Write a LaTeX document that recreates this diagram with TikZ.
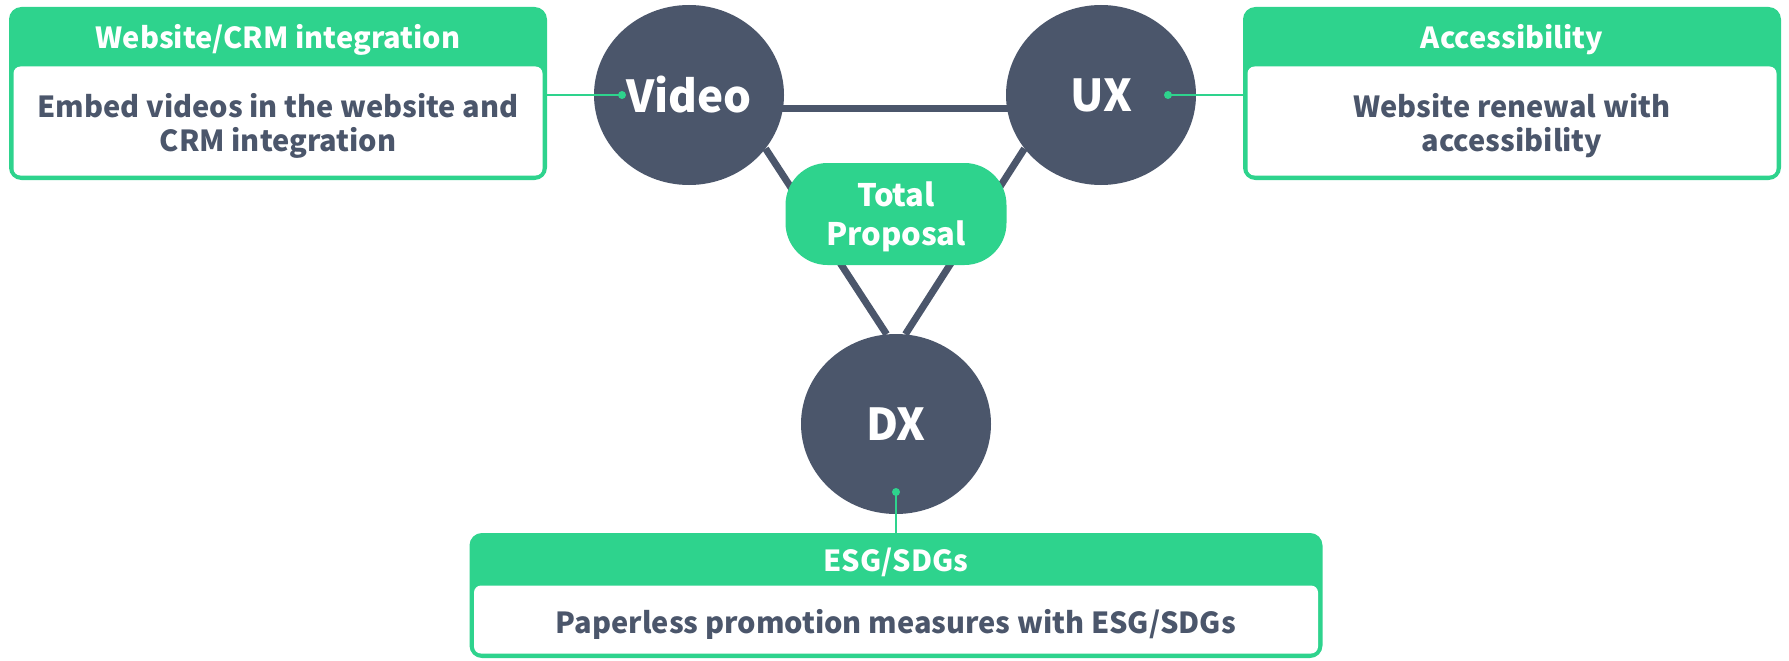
\documentclass[tikz,border=0pt]{standalone}
\usepackage{fontspec}
\setmainfont{Noto Sans CJK JP}
\usetikzlibrary{positioning, fit, backgrounds, calc, shapes.geometric}
\definecolor{mint}{HTML}{2ED38D}
\definecolor{slate}{HTML}{4B566B}

\begin{document}
\begin{tikzpicture}[
    x=1pt, y=-1pt,
    node distance=0pt,
    lift/.style={execute at begin node={\rule{0pt}{#1}}},
    hub/.style={ellipse, fill=slate, text=white, inner sep=0pt, minimum width=190pt, minimum height=180pt, font=\fontsize{44}{48}\selectfont\bfseries},
    core/.style={rectangle, rounded corners=42pt, fill=mint, text=white, align=center, inner sep=0pt, minimum width=221pt, minimum height=102pt, font=\fontsize{31}{39}\selectfont\bfseries, lift=70pt},
    head/.style={rectangle, inner sep=0pt, outer sep=0pt, text=white, text height=28pt, text depth=2pt, font=\fontsize{29}{32}\selectfont\bfseries},
    body/.style={rectangle, fill=white, rounded corners=7pt, inner sep=0pt, outer sep=3pt, align=center, text=slate, font=\fontsize{29}{34}\selectfont\bfseries},
    frame/.style={draw=mint, fill=mint, line width=3pt, rounded corners=11pt, inner sep=0pt},
    link/.style={draw=slate, line width=7pt},
    wire/.style={draw=mint, line width=2pt},
    dot/.style={circle, fill=mint, inner sep=0pt, minimum size=8pt}
]
  \useasboundingbox (0,0) rectangle (1789,661);

  % the three themes and the centre
  \node[hub] (video) at (689,95) {Video};
  \node[hub] (ux) at (1101,95) {UX};
  \node[hub] (dx) at (896,424) {DX};
  \node[core] (total) at (896,214) {Total\\Proposal};

  % cards
  \node[head, minimum width=535pt, minimum height=55pt] (webhead) at (278,36) {Website/CRM integration};
  \node[body, lift=68pt, below=of webhead, minimum width=529pt, minimum height=109pt] (webbody) {Embed videos in the website and\\CRM integration};

  \node[head, minimum width=535pt, minimum height=55pt] (acchead) at (1512,36) {Accessibility};
  \node[body, lift=68pt, below=of acchead, minimum width=529pt, minimum height=109pt] (accbody) {Website renewal with\\accessibility};

  \node[head, minimum width=850pt, minimum height=48pt] (esghead) at (896,558.5) {ESG/SDGs};
  \node[body, lift=34pt, below=of esghead, minimum width=844pt, minimum height=68pt] (esgbody) {Paperless promotion measures with ESG/SDGs};

  \begin{scope}[on background layer]
    \node[frame, fit=(webhead)(webbody)] (webframe) {};
    \node[frame, fit=(acchead)(accbody)] (accframe) {};
    \node[frame, fit=(esghead)(esgbody)] (esgframe) {};
    \draw[link] ([yshift=-13pt]video.center) -- ([yshift=-13pt]ux.center);
    \draw[link] (video.-35) -- (dx.96);
    \draw[link] (ux.-145) -- (dx.84);
  \end{scope}

  % green leads
  \node[dot] (videodot) at ([xshift=-67pt]video.center) {};
  \node[dot] (uxdot) at ([xshift=67pt]ux.center) {};
  \node[dot] (dxdot) at ([yshift=-68pt]dx.center) {};
  \draw[wire] (videodot.center) -- (videodot -| webframe.east);
  \draw[wire] (uxdot.center) -- (uxdot -| accframe.west);
  \draw[wire] (dxdot.center) -- (dxdot |- esgframe.north);
\end{tikzpicture}
\end{document}
